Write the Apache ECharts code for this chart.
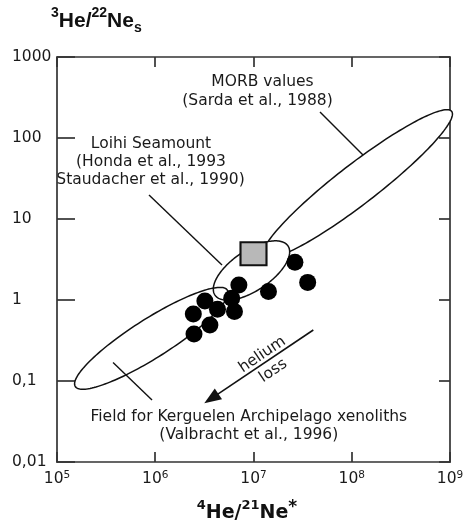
<!DOCTYPE html>
<html><head><meta charset="utf-8">
<script src="https://cdn.jsdelivr.net/npm/echarts@6/dist/echarts.min.js"></script>
<style>html,body{margin:0;padding:0;background:#fff}#c{width:467px;height:532px}</style>
</head><body><div id="c"></div>
<script>
// ---- data ----
const xTickExponents = ['5', '6', '7', '8', '9'];
const yTickLabels = ['0,01', '0,1', '1', '10', '100', '1000'];

// Kerguelen xenolith samples (4He/21Ne*, 3He/22Ne_s)
const sampleX = [2.64e7, 3.56e7, 1.42e7, 7.1e6, 6.0e6, 6.4e6, 4.3e6, 3.2e6, 2.44e6, 3.6e6, 2.48e6];
const sampleY = [2.92, 1.65, 1.27, 1.53, 1.05, 0.72, 0.77, 0.97, 0.67, 0.49, 0.38];

// Loihi reference point (square)
const loihiPointX = [1.0e7];
const loihiPointY = [3.73];

// Fields: centre, end of major axis, end of minor axis (data units)
const morbField = [1.144e8, 27.0, 1.04e9, 213, 1.523e8, 17.2];
const loihiField = [9.54e6, 2.313, 2.244e7, 4.655, 1.240e7, 1.443];
const kerguelenField = [9.116e5, 0.3366, 5.412e6, 1.325, 1.165e6, 0.2109];

// Leader lines from labels to fields
const morbLeader = [[4.75e7, 209.4], [1.302e8, 61.7]];
const loihiLeader = [[8.64e5, 19.8], [4.78e6, 2.705]];
const kerguelenLeader = [[3.72e5, 0.1692], [9.27e5, 0.0583]];

// Helium-loss arrow: tail, head
const heliumLossArrow = [4.06e7, 0.4262, 3.156e6, 0.0530];

// ---- chart ----
const INK = '#1a1a1a';
const FONT = 'DejaVu Sans';

function ellipseRenderer(filled) {
  return function (params, api) {
    const c = api.coord([api.value(0), api.value(1)]);
    const t = api.coord([api.value(2), api.value(3)]);
    const m = api.coord([api.value(4), api.value(5)]);
    const ax = t[0] - c[0], ay = t[1] - c[1], bx = m[0] - c[0], by = m[1] - c[1];
    const pts = [];
    const n = 160;
    for (let i = 0; i < n; i++) {
      const a = i / n * 2 * Math.PI;
      pts.push([c[0] + Math.cos(a) * ax + Math.sin(a) * bx, c[1] + Math.cos(a) * ay + Math.sin(a) * by]);
    }
    return {
      type: 'polygon', shape: { points: pts },
      style: { fill: filled ? '#fff' : 'none', stroke: '#111', lineWidth: 1.5 }
    };
  };
}

function ellipseSeries(field, filled, z) {
  return {
    type: 'custom', coordinateSystem: 'cartesian2d', clip: false, silent: true, z: z,
    dimensions: ['cx', 'cy', 'tx', 'ty', 'mx', 'my'],
    encode: { x: ['cx', 'tx', 'mx'], y: ['cy', 'ty', 'my'] },
    renderItem: ellipseRenderer(filled),
    data: [field]
  };
}

function arrowRenderer(params, api) {
  const p0 = api.coord([api.value(0), api.value(1)]);
  const p1 = api.coord([api.value(2), api.value(3)]);
  const dx = p1[0] - p0[0], dy = p1[1] - p0[1];
  const L = Math.hypot(dx, dy), ux = dx / L, uy = dy / L;
  const hl = 17, hw = 6.5;
  const bx = p1[0] - ux * hl, by = p1[1] - uy * hl;
  const rot = Math.atan2(p1[1] - p0[1], p0[0] - p1[0]);
  const nx = -uy, ny = ux;
  const upx = (ny < 0) ? nx : -nx, upy = (ny < 0) ? ny : -ny;
  const s = 56;
  const hx = p0[0] + ux * s, hy = p0[1] + uy * s;
  return {
    type: 'group', children: [
      { type: 'line', shape: { x1: p0[0], y1: p0[1], x2: bx + ux * 2, y2: by + uy * 2 }, style: { stroke: '#111', lineWidth: 1.6 } },
      { type: 'polygon', shape: { points: [[p1[0], p1[1]], [bx - uy * hw, by + ux * hw], [bx + uy * hw, by - ux * hw]] }, style: { fill: '#111' } },
      { type: 'text', x: hx + upx * 8, y: hy + upy * 8, rotation: rot,
        style: { text: 'helium', fontSize: 15.5, fontFamily: FONT, fill: INK, align: 'center', verticalAlign: 'middle' } },
      { type: 'text', x: hx - upx * 11.5, y: hy - upy * 11.5, rotation: rot,
        style: { text: 'loss', fontSize: 15.5, fontFamily: FONT, fill: INK, align: 'center', verticalAlign: 'middle' } }
    ]
  };
}

const axisLineStyle = { color: '#333', width: 1.7 };

const option = {
  animation: false,
  backgroundColor: '#fff',
  grid: { left: 57, right: 17, top: 57, bottom: 70, containLabel: false },
  xAxis: [
    {
      type: 'log', logBase: 10, min: 1e5, max: 1e9, position: 'bottom',
      axisLine: { show: true, onZero: false, lineStyle: axisLineStyle },
      axisTick: { show: true, inside: true, length: 10, lineStyle: axisLineStyle },
      minorTick: { show: false }, splitLine: { show: false },
      axisLabel: {
        show: true, margin: 8, showMinLabel: true, showMaxLabel: true, hideOverlap: false,
        formatter: v => '{b|10}{s|' + xTickExponents[Math.round(Math.log10(v)) - 5] + '}',
        rich: {
          b: { fontSize: 15.5, fontFamily: FONT, color: INK, lineHeight: 18 },
          s: { fontSize: 10.5, fontFamily: FONT, color: INK, lineHeight: 13, verticalAlign: 'top' }
        }
      }
    },
    {
      type: 'log', logBase: 10, min: 1e5, max: 1e9, position: 'top',
      axisLine: { show: true, onZero: false, lineStyle: axisLineStyle },
      axisTick: { show: true, inside: true, length: 10, lineStyle: axisLineStyle },
      minorTick: { show: false }, splitLine: { show: false }, axisLabel: { show: false }
    }
  ],
  yAxis: [
    {
      type: 'log', logBase: 10, min: 0.01, max: 1000, position: 'left',
      axisLine: { show: true, onZero: false, lineStyle: axisLineStyle },
      axisTick: { show: true, inside: true, length: 18, lineStyle: axisLineStyle },
      minorTick: { show: false }, splitLine: { show: false },
      axisLabel: {
        show: true, margin: 45, align: 'left', showMinLabel: true, showMaxLabel: true, hideOverlap: false,
        fontSize: 15.5, fontFamily: FONT, color: INK,
        formatter: v => yTickLabels[Math.round(Math.log10(v)) + 2]
      }
    },
    {
      type: 'log', logBase: 10, min: 0.01, max: 1000, position: 'right',
      axisLine: { show: true, onZero: false, lineStyle: axisLineStyle },
      axisTick: { show: true, inside: true, length: 11, lineStyle: axisLineStyle },
      minorTick: { show: false }, splitLine: { show: false }, axisLabel: { show: false }
    }
  ],
  series: [
    ellipseSeries(morbField, true, 2),
    ellipseSeries(loihiField, true, 3),
    ellipseSeries(kerguelenField, false, 4),
    {
      type: 'lines', coordinateSystem: 'cartesian2d', z: 5, silent: true,
      symbol: 'none', lineStyle: { color: '#111', width: 1.4, opacity: 1 },
      data: [morbLeader, loihiLeader, kerguelenLeader].map(c => ({ coords: c }))
    },
    {
      type: 'custom', coordinateSystem: 'cartesian2d', clip: false, silent: true, z: 6,
      dimensions: ['x0', 'y0', 'x1', 'y1'],
      encode: { x: ['x0', 'x1'], y: ['y0', 'y1'] },
      renderItem: arrowRenderer,
      data: [heliumLossArrow]
    },
    {
      type: 'scatter', z: 7, silent: true,
      symbol: 'rect', symbolSize: [26, 23],
      itemStyle: { color: '#b8b8b8', borderColor: '#111', borderWidth: 2, opacity: 1 },
      data: loihiPointX.map((x, i) => [x, loihiPointY[i]])
    },
    {
      type: 'scatter', z: 8, silent: true,
      symbol: 'circle', symbolSize: 17,
      itemStyle: { color: '#000', opacity: 1 },
      data: sampleX.map((x, i) => [x, sampleY[i]])
    }
  ],
  graphic: [
    { type: 'text', left: 51, top: 6.5, style: {
        text: '{sup|3}{b|He/}{sup|22}{b|Ne}{sub|s}',
        rich: {
          b: { fontSize: 21, fontWeight: 'bold', fontFamily: 'Liberation Sans', fill: '#111', lineHeight: 29 },
          sup: { fontSize: 14, fontWeight: 'bold', fontFamily: 'Liberation Sans', fill: '#111', lineHeight: 11, verticalAlign: 'top' },
          sub: { fontSize: 14, fontWeight: 'bold', fontFamily: 'Liberation Sans', fill: '#111', lineHeight: 10, verticalAlign: 'bottom' }
        } } },
    { type: 'text', left: 196.7, top: 498.9, style: {
        text: '{sup|4}{b|He/}{sup|21}{b|Ne}{ast|*}',
        rich: {
          b: { fontSize: 19, fontWeight: 'bold', fontFamily: FONT, fill: '#111', lineHeight: 28 },
          sup: { fontSize: 13, fontWeight: 'bold', fontFamily: FONT, fill: '#111', lineHeight: 16, verticalAlign: 'top' },
          ast: { fontSize: 17, fontWeight: 'bold', fontFamily: FONT, fill: '#111', lineHeight: 8, verticalAlign: 'top' }
        } } },
    { type: 'text', x: 262.5, y: 81.5, style: { text: 'MORB values', fontSize: 15.5, fontFamily: FONT, fill: INK, align: 'center', verticalAlign: 'middle' } },
    { type: 'text', x: 257.5, y: 100.5, style: { text: '(Sarda et al., 1988)', fontSize: 15.5, fontFamily: FONT, fill: INK, align: 'center', verticalAlign: 'middle' } },
    { type: 'text', x: 151, y: 144, style: { text: 'Loihi Seamount', fontSize: 15.5, fontFamily: FONT, fill: INK, align: 'center', verticalAlign: 'middle' } },
    { type: 'text', x: 151, y: 162, style: { text: '(Honda et al., 1993', fontSize: 15.5, fontFamily: FONT, fill: INK, align: 'center', verticalAlign: 'middle' } },
    { type: 'text', x: 150.5, y: 180, style: { text: 'Staudacher et al., 1990)', fontSize: 15.5, fontFamily: FONT, fill: INK, align: 'center', verticalAlign: 'middle' } },
    { type: 'text', x: 248.8, y: 417, style: { text: 'Field for Kerguelen Archipelago xenoliths', fontSize: 15.5, fontFamily: FONT, fill: INK, align: 'center', verticalAlign: 'middle' } },
    { type: 'text', x: 248.8, y: 435, style: { text: '(Valbracht et al., 1996)', fontSize: 15.5, fontFamily: FONT, fill: INK, align: 'center', verticalAlign: 'middle' } }
  ]
};

const chart = echarts.init(document.getElementById('c'), null, { renderer: 'canvas' });
chart.setOption(option);
</script>
</body></html>
